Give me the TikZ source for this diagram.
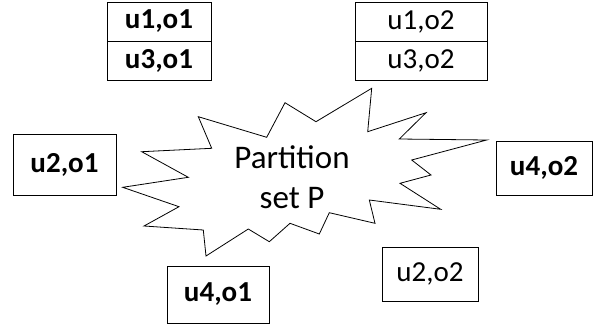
\documentclass[tikz,border=0pt]{standalone}
\usepackage{fontspec}
\setmainfont{Carlito}
\usepackage{tikz}
\usetikzlibrary{positioning}
\tikzset{
    %Define style for pair boxes
    pair/.style={
           rectangle,
           draw=black,
           line width=0.8pt,
           inner sep=0pt,
           font=\fontsize{29}{30}\selectfont,
           text centered},
    % Define style for the star text
    star/.style={
           align=center,
           font=\fontsize{33}{40}\selectfont}
}

\begin{document}
\begin{tikzpicture}[x=1pt, y=-1pt]
    \useasboundingbox (0,0) rectangle (594,327);
    % stacked pairs
    \node [pair, minimum width=104pt, minimum height=39pt] (u1o1) at (159,21.5) {\textbf{u1,o1}};
    \node [pair, minimum width=104pt, minimum height=39pt, below=0pt of u1o1] (u3o1) {\textbf{u3,o1}};
    \node [pair, minimum width=132pt, minimum height=39pt] (u1o2) at (421,21.5) {u1,o2};
    \node [pair, minimum width=132pt, minimum height=39pt, below=0pt of u1o2] (u3o2) {u3,o2};
    % single pairs
    \node [pair, minimum width=103pt, minimum height=61pt] (u2o1) at (64.5,164.5) {\textbf{u2,o1}};
    \node [pair, minimum width=96pt, minimum height=54pt] (u4o2) at (544,168) {\textbf{u4,o2}};
    \node [pair, minimum width=102pt, minimum height=57pt] (u4o1) at (218,294.5) {\textbf{u4,o1}};
    \node [pair, minimum width=96pt, minimum height=54pt] (u2o2) at (430,274) {u2,o2};

    % partition set star
    \draw [line width=0.8pt, line join=miter]
        (198.3,116.7) -- (266.7,137.3) -- (285,102.7) -- (316,121.7)
        -- (371.7,88.3) -- (367.7,131.7) -- (426,112.7) -- (399.3,139)
        -- (486.7,140) -- (411.7,160) -- (431,175) -- (400,183.3)
        -- (440.7,209.3) -- (369.3,200) -- (375,223.3) -- (329.3,212.7)
        -- (319.3,234) -- (290,223.3) -- (269.3,241.7) -- (248.3,229)
        -- (206,256) -- (203.3,230) -- (144,226) -- (179,206.7)
        -- (122.7,187.3) -- (188.3,177.3) -- (141.7,151.7) -- (211.7,148.3)
        -- cycle;
    \node [star] (P) at (292,177) {Partition\\set P};
\end{tikzpicture}
\end{document}
